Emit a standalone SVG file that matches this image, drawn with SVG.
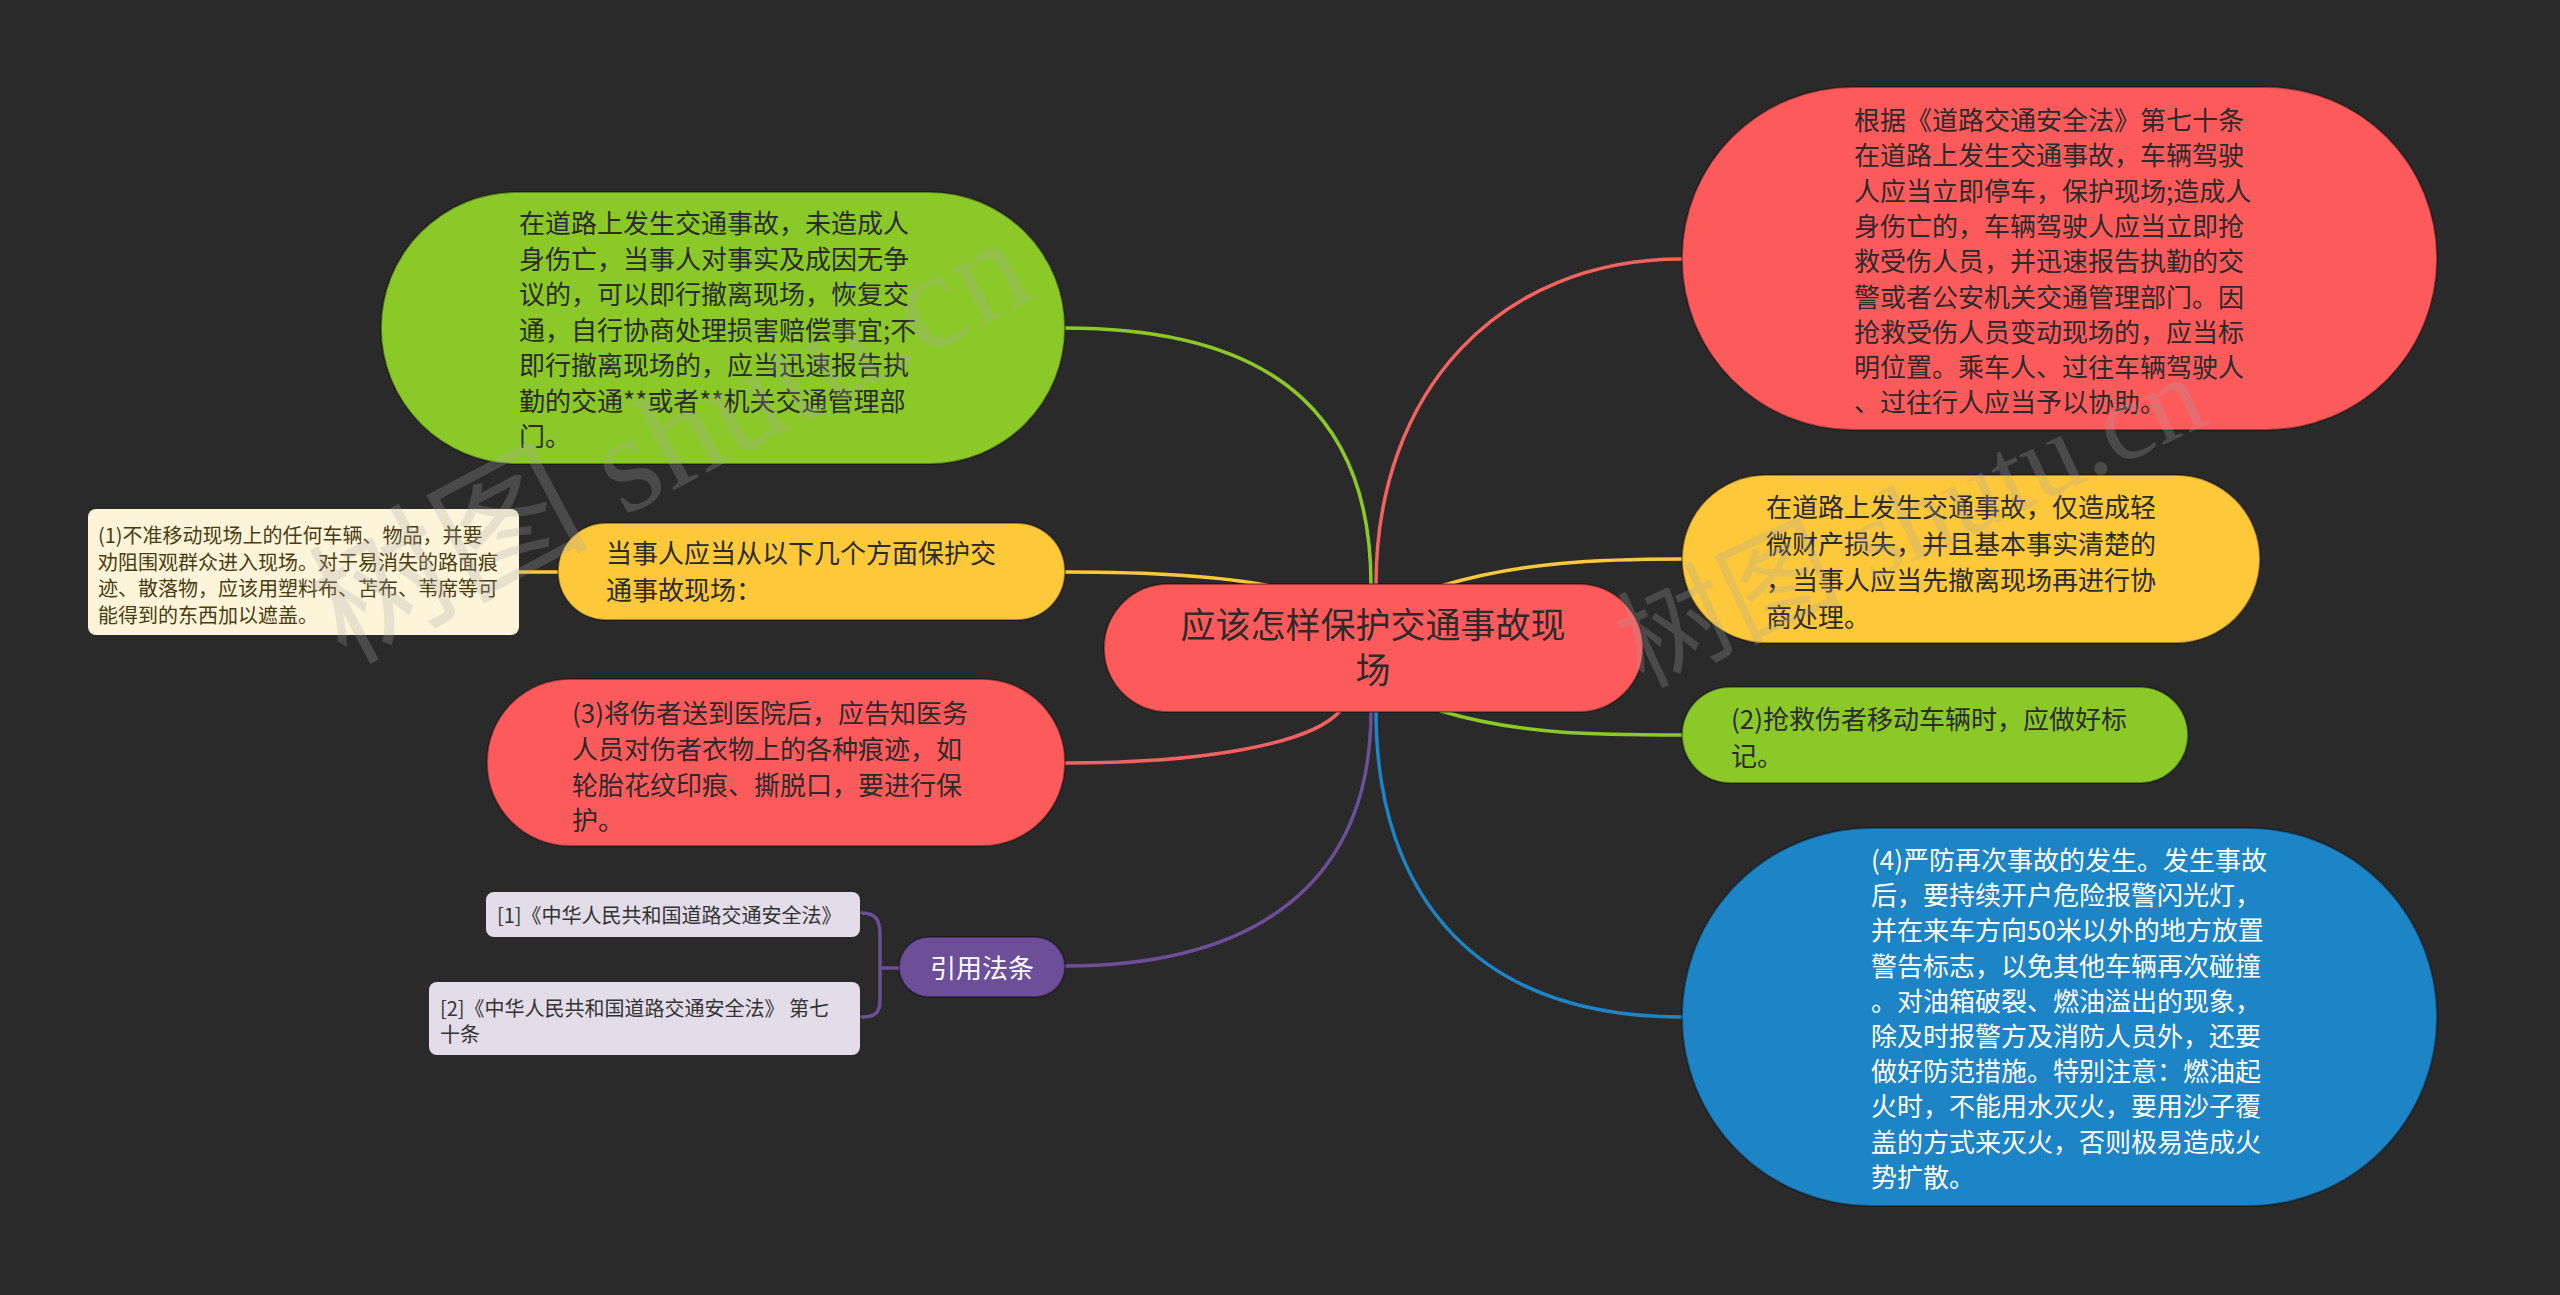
<svg xmlns="http://www.w3.org/2000/svg" width="2560" height="1295" viewBox="0 0 2560 1295">
<style>
text{font-family:"Noto Sans CJK SC","Noto Sans",sans-serif;}
.t26{font-size:26px;fill:#2b2b2b;}
.t20{font-size:20px;fill:#333333;}
.w{fill:#ffffff;}
.node{stroke:rgba(0,0,0,0.35);stroke-width:2;}
.conn{fill:none;stroke-width:3.5;stroke-linecap:round;}
.wm{font-family:"Liberation Serif","Noto Sans CJK SC",serif;font-size:112px;fill:#a8a8a8;fill-opacity:0.26;}
</style>
<rect x="0" y="0" width="2560" height="1295" fill="#2a2a2a"/>

<g id="connectors">
  <path class="conn" stroke="#8bc928" d="M1065,328 C1290,328 1371,430 1371,585"/>
  <path class="conn" stroke="#f2625f" d="M1376,585 C1376,390 1500,259 1682,259"/>
  <path class="conn" stroke="#fdc83a" d="M1065,572 C1150,572 1220,576 1270,586"/>
  <path class="conn" stroke="#fdc83a" d="M1441,586 C1520,562 1600,559 1682,559"/>
  <path class="conn" stroke="#f2625f" d="M1065,763 C1200,763 1310,745 1340,711"/>
  <path class="conn" stroke="#8bc928" d="M1441,711 C1520,735 1600,735 1682,735"/>
  <path class="conn" stroke="#6c4e99" d="M1371,711 C1371,880 1260,966 1065,966"/>
  <path class="conn" stroke="#1d84c6" d="M1376,711 C1376,900 1480,1017 1682,1017"/>
  <path class="conn" stroke="#fdc83a" d="M519,572 L558,572"/>
  <path class="conn" stroke="#6c4e99" d="M899,968 L880,968 M862,913 C876,913 880,920 880,935 L880,1000 C880,1012 876,1017 862,1017"/>
</g>

<g id="center">
  <rect class="node" x="1104" y="584" width="539" height="128" rx="64" fill="#fd5a5c"/>
  <text x="1373" y="638" text-anchor="middle" style="font-size:35px;fill:#2b2b2b">应该怎样保护交通事故现</text>
  <text x="1373" y="683" text-anchor="middle" style="font-size:35px;fill:#2b2b2b">场</text>
</g>

<g id="node-green-left">
  <rect class="node" x="381" y="192" width="684" height="272" rx="136" fill="#8bc928"/>
  <text class="t26" x="519" y="233">在道路上发生交通事故，未造成人</text>
  <text class="t26" x="519" y="268.5">身伤亡，当事人对事实及成因无争</text>
  <text class="t26" x="519" y="304">议的，可以即行撤离现场，恢复交</text>
  <text class="t26" x="519" y="339.5">通，自行协商处理损害赔偿事宜;不</text>
  <text class="t26" x="519" y="375">即行撤离现场的，应当迅速报告执</text>
  <text class="t26" x="519" y="410.5">勤的交通**或者**机关交通管理部</text>
  <text class="t26" x="519" y="446">门。</text>
</g>

<g id="node-yellow-left">
  <rect class="node" x="558" y="523" width="507" height="97" rx="48" fill="#fdc83a"/>
  <text class="t26" x="606" y="563">当事人应当从以下几个方面保护交</text>
  <text class="t26" x="606" y="600">通事故现场：</text>
</g>

<g id="leaf-1">
  <rect x="88" y="509" width="431" height="126" rx="8" fill="#fdf4d9"/>
  <text class="t20" x="98" y="543" style="fill:#4a3c12">(1)不准移动现场上的任何车辆、物品，并要</text>
  <text class="t20" x="98" y="570" style="fill:#4a3c12">劝阻围观群众进入现场。对于易消失的路面痕</text>
  <text class="t20" x="98" y="596" style="fill:#4a3c12">迹、散落物，应该用塑料布、苫布、苇席等可</text>
  <text class="t20" x="98" y="623" style="fill:#4a3c12">能得到的东西加以遮盖。</text>
</g>

<g id="node-red-left">
  <rect class="node" x="487" y="679" width="578" height="167" rx="83" fill="#fd5a5c"/>
  <text class="t26" x="572" y="723">(3)将伤者送到医院后，应告知医务</text>
  <text class="t26" x="572" y="759">人员对伤者衣物上的各种痕迹，如</text>
  <text class="t26" x="572" y="795">轮胎花纹印痕、撕脱口，要进行保</text>
  <text class="t26" x="572" y="830">护。</text>
</g>

<g id="node-purple">
  <rect class="node" x="899" y="937" width="166" height="60" rx="30" fill="#6c4e99"/>
  <text class="t26 w" x="982" y="978" text-anchor="middle">引用法条</text>
</g>

<g id="cite-1">
  <rect x="486" y="892" width="374" height="45" rx="8" fill="#e2dde9"/>
  <text class="t20" x="497" y="923">[1]《中华人民共和国道路交通安全法》</text>
</g>

<g id="cite-2">
  <rect x="429" y="982" width="431" height="73" rx="8" fill="#e2dde9"/>
  <text class="t20" x="440" y="1016">[2]《中华人民共和国道路交通安全法》 第七</text>
  <text class="t20" x="440" y="1042">十条</text>
</g>

<g id="node-red-right">
  <rect class="node" x="1682" y="87" width="755" height="343" rx="171" fill="#fd5a5c"/>
  <text class="t26" x="1854" y="130">根据《道路交通安全法》第七十条</text>
  <text class="t26" x="1854" y="165.3">在道路上发生交通事故，车辆驾驶</text>
  <text class="t26" x="1854" y="200.6">人应当立即停车，保护现场;造成人</text>
  <text class="t26" x="1854" y="235.9">身伤亡的，车辆驾驶人应当立即抢</text>
  <text class="t26" x="1854" y="271.2">救受伤人员，并迅速报告执勤的交</text>
  <text class="t26" x="1854" y="306.5">警或者公安机关交通管理部门。因</text>
  <text class="t26" x="1854" y="341.8">抢救受伤人员变动现场的，应当标</text>
  <text class="t26" x="1854" y="377.1">明位置。乘车人、过往车辆驾驶人</text>
  <text class="t26" x="1854" y="412.4">、过往行人应当予以协助。</text>
</g>

<g id="node-yellow-right">
  <rect class="node" x="1682" y="475" width="578" height="168" rx="84" fill="#fdc83a"/>
  <text class="t26" x="1766" y="517">在道路上发生交通事故，仅造成轻</text>
  <text class="t26" x="1766" y="553.5">微财产损失，并且基本事实清楚的</text>
  <text class="t26" x="1766" y="590">，当事人应当先撤离现场再进行协</text>
  <text class="t26" x="1766" y="626.5">商处理。</text>
</g>

<g id="node-green-right">
  <rect class="node" x="1682" y="687" width="506" height="96" rx="48" fill="#8bc928"/>
  <text class="t26" x="1731" y="729">(2)抢救伤者移动车辆时，应做好标</text>
  <text class="t26" x="1731" y="766">记。</text>
</g>

<g id="node-blue">
  <rect class="node" x="1682" y="828" width="755" height="378" rx="189" fill="#1d84c6"/>
  <text class="t26 w" x="1871" y="870">(4)严防再次事故的发生。发生事故</text>
  <text class="t26 w" x="1871" y="905.2">后，要持续开户危险报警闪光灯，</text>
  <text class="t26 w" x="1871" y="940.4">并在来车方向50米以外的地方放置</text>
  <text class="t26 w" x="1871" y="975.6">警告标志，以免其他车辆再次碰撞</text>
  <text class="t26 w" x="1871" y="1010.8">。对油箱破裂、燃油溢出的现象，</text>
  <text class="t26 w" x="1871" y="1046">除及时报警方及消防人员外，还要</text>
  <text class="t26 w" x="1871" y="1081.2">做好防范措施。特别注意：燃油起</text>
  <text class="t26 w" x="1871" y="1116.4">火时，不能用水灭火，要用沙子覆</text>
  <text class="t26 w" x="1871" y="1151.6">盖的方式来灭火，否则极易造成火</text>
  <text class="t26 w" x="1871" y="1186.8">势扩散。</text>
</g>

<g id="watermarks">
  <text class="wm" style="font-size:140px" transform="translate(345,665) rotate(-28)">树图 shutu.cn</text>
  <text class="wm" transform="translate(1642,688) rotate(-25)">树图 shutu.cn</text>
</g>
</svg>
